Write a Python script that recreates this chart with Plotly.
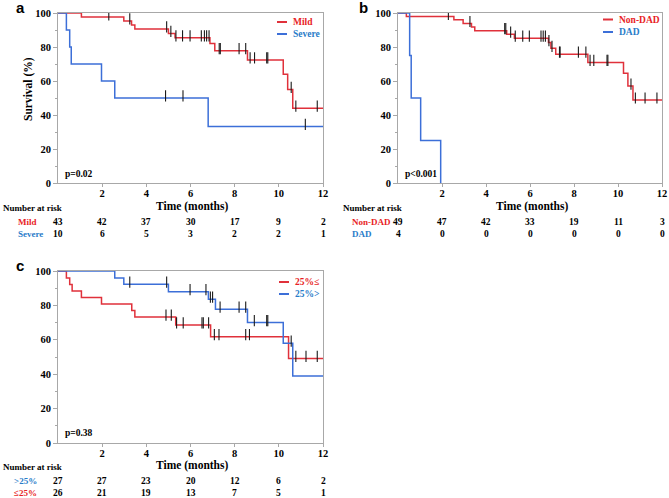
import plotly.graph_objects as go

# ---------------- data ----------------
# Panel a
mild_event_t = [1.06, 2.98, 3.33, 3.48, 5.0, 5.3, 6.88, 7.1, 8.58, 10.2, 10.4, 10.63]
mild_event_s = [97.7, 95.3, 93.0, 90.6, 88.0, 85.4, 82.0, 77.8, 72.4, 64.0, 55.0, 44.0]
mild_cens = [2.3, 3.25, 4.92, 5.11, 5.34, 5.64, 5.98, 6.49, 6.63, 6.73, 6.84, 7.3, 7.35,
             8.2, 8.5, 8.7, 8.9, 9.45, 9.5, 10.56, 10.77, 11.74]
mild_end = 12

severe_event_t = [0.38, 0.53, 0.6, 1.97, 2.57, 6.8]
severe_event_s = [90, 80, 70, 60, 50, 33.3]
severe_cens = [4.87, 5.66, 11.2]
severe_end = 12

# Panel b
nondad_event_t = [0.38, 2.54, 2.96, 3.34, 3.49, 4.94, 5.29, 6.84, 6.95, 7.17, 8.63, 10.25, 10.45, 10.68]
nondad_event_s = [98.0, 96.0, 93.8, 91.8, 89.6, 87.5, 85.2, 82.6, 79.2, 75.8, 70.9, 64.5, 57.0, 48.8]
nondad_cens = [2.29, 3.27, 4.85, 4.9, 5.12, 5.33, 5.67, 5.97, 6.5, 6.6, 6.7, 6.86, 7.0, 7.34, 7.37,
               8.2, 8.54, 8.73, 8.9, 9.5, 9.54, 10.59, 10.79, 11.23, 11.77]
nondad_end = 12

dad_event_t = [0.53, 0.6, 1.03, 1.94]
dad_event_s = [75, 50, 25, 0]
dad_cens = []
dad_end = 1.94

# Panel c
le25_event_t = [0.38, 0.53, 0.64, 1.06, 1.97, 3.34, 3.48, 5.33, 6.91, 10.44]
le25_event_s = [96.0, 92.2, 88.4, 84.6, 80.8, 77.0, 73.2, 68.6, 61.8, 49.2]
le25_cens = [4.89, 5.13, 5.37, 5.67, 6.52, 6.58, 6.82, 7.08, 7.29, 8.5, 8.67, 10.77, 11.23, 11.74]
le25_end = 12

gt25_event_t = [2.57, 2.98, 5.0, 6.81, 7.13, 8.58, 10.2, 10.63]
gt25_event_s = [96.0, 92.3, 88.0, 83.6, 77.8, 70.0, 58.0, 39.0]
gt25_cens = [3.25, 4.92, 5.98, 6.7, 6.9, 7.0, 7.34, 8.2, 8.5, 8.89, 9.45, 9.5, 10.56]
gt25_end = 12

risk_times = [0, 2, 4, 6, 8, 10, 12]
risk_mild = [43, 42, 37, 30, 17, 9, 2]
risk_severe = [10, 6, 5, 3, 2, 2, 1]
risk_nondad = [49, 47, 42, 33, 19, 11, 3]
risk_dad = [4, 0, 0, 0, 0, 0, 0]
risk_gt25 = [27, 27, 23, 20, 12, 6, 2]
risk_le25 = [26, 21, 19, 13, 7, 5, 1]

x_ticks = [2, 4, 6, 8, 10, 12]
y_ticks = [0, 20, 40, 60, 80, 100]

# ---------------- style ----------------
W, H = 669, 498
RED = "#E0313B"
BLUE = "#3C6FD8"
RED_T = "#E81E25"
BLUE_T = "#2A7CC9"
SERIF = "Liberation Serif"
SANS = "Liberation Sans"
AX = "#A8A8A8"


def px(x):
    return x / W


def py(y):
    return 1 - y / H


fig = go.Figure()


def surv_at(t, ev_t, ev_s):
    s = 100
    for et, es in zip(ev_t, ev_s):
        if et <= t:
            s = es
    return s


def add_km(ev_t, ev_s, cens, end, color, xa, ya):
    xs = [0] + list(ev_t) + [end]
    ys = [100] + list(ev_s) + [ev_s[-1]]
    fig.add_trace(go.Scatter(x=xs, y=ys, mode="lines", line=dict(color=color, width=1.5, shape="hv"),
                             xaxis=xa, yaxis=ya, showlegend=False, hoverinfo="skip"))
    if cens:
        cy = [surv_at(c, ev_t, ev_s) + 1.2 for c in cens]
        fig.add_trace(go.Scatter(x=cens, y=cy, mode="markers",
                                 marker=dict(symbol="line-ns-open", size=8, color="#1a1a1a",
                                             line=dict(color="#1a1a1a", width=1.1)),
                                 xaxis=xa, yaxis=ya, showlegend=False, hoverinfo="skip"))


add_km(mild_event_t, mild_event_s, mild_cens, mild_end, RED, "x", "y")
add_km(severe_event_t, severe_event_s, severe_cens, severe_end, BLUE, "x", "y")
add_km(nondad_event_t, nondad_event_s, nondad_cens, nondad_end, RED, "x2", "y2")
add_km(dad_event_t, dad_event_s, dad_cens, dad_end, BLUE, "x2", "y2")
add_km(le25_event_t, le25_event_s, le25_cens, le25_end, RED, "x3", "y3")
add_km(gt25_event_t, gt25_event_s, gt25_cens, gt25_end, BLUE, "x3", "y3")

tickfont = dict(family=SERIF, size=10.5, color="black", weight="bold")


def xax(dom, anchor):
    return dict(domain=dom, range=[0, 12], tickvals=x_ticks, showline=True, linecolor=AX, mirror=True,
                ticks="outside", ticklen=3, tickcolor=AX, showgrid=False, zeroline=False,
                ticklabelstandoff=-3,
                tickfont=tickfont, anchor=anchor, automargin=False, fixedrange=True)


def yax(dom, anchor):
    return dict(domain=dom, range=[0, 100], tickvals=y_ticks, showline=True, linecolor=AX, mirror=True,
                ticks="outside", ticklen=4, tickcolor=AX, showgrid=False, zeroline=False,
                minor=dict(ticks="outside", ticklen=2, dtick=10, tickcolor=AX),
                tickfont=tickfont, anchor=anchor, automargin=False, fixedrange=True)


dom_a_x = [px(58), px(323)]
dom_b_x = [px(398), px(662)]
dom_top_y = [py(183), py(13)]
dom_c_y = [py(443), py(271)]

fig.update_layout(
    width=W, height=H, margin=dict(l=0, r=0, t=0, b=0),
    paper_bgcolor="white", plot_bgcolor="white", showlegend=False,
    xaxis=xax(dom_a_x, "y"), yaxis=yax(dom_top_y, "x"),
    xaxis2=xax(dom_b_x, "y2"), yaxis2=yax(dom_top_y, "x2"),
    xaxis3=xax(dom_a_x, "y3"), yaxis3=yax(dom_c_y, "x3"),
)

ann = []
shapes = []


def text(x, y, s, size=11, color="black", xanchor="left", family=SERIF, xref="paper", bold=True, angle=0):
    ann.append(dict(x=x, y=y, xref=xref, yref="paper", text=("<b>%s</b>" % s) if bold else s,
                    showarrow=False, xanchor=xanchor, yanchor="middle", textangle=angle,
                    font=dict(family=family, size=size, color=color)))


# panel letters
text(px(14), py(8), "a", size=15, family=SANS)
text(px(357), py(8), "b", size=15, family=SANS)
text(px(14), py(265), "c", size=15, family=SANS)

# y title
text(px(28), py(89), "Survival (%)", size=11.5, xanchor="center", angle=-90)

# p values
text(px(63), py(174), "p=0.02", size=9.5)
text(px(403), py(174), "p&lt;0.001", size=9.5)
text(px(63), py(433), "p=0.38", size=9.5)

# x titles
text(px(192), py(206), "Time (months)", size=11.5, xanchor="center")
text(px(532), py(206), "Time (months)", size=11.5, xanchor="center")
text(px(192), py(465), "Time (months)", size=11.5, xanchor="center")


# legends
def legend(x0, y, label, color, tcolor):
    shapes.append(dict(type="line", xref="paper", yref="paper", x0=px(x0), x1=px(x0 + 10), y0=py(y), y1=py(y),
                       line=dict(color=color, width=2)))
    text(px(x0 + 14), py(y), label, size=9.5, color=tcolor)


legend(277, 22, "Mild", RED, RED_T)
legend(277, 34, "Severe", BLUE, BLUE_T)
legend(603, 19.5, "Non-DAD", RED, RED_T)
legend(603, 32, "DAD", BLUE, BLUE_T)
legend(279, 282, "25%≤", RED, RED_T)
legend(279, 294, "25%&gt;", BLUE, BLUE_T)


# risk tables
def risk_table(xref, x_num, x_lab, y0, rows):
    text(px(x_num), py(y0), "Number at risk", size=9)
    for i, (lab, col, vals) in enumerate(rows):
        yy = y0 + 13.5 + 12.5 * i
        text(px(x_lab), py(yy), lab, size=9, color=col)
        for t, v in zip(risk_times, vals):
            text(t, py(yy), str(v), size=9.5, xanchor="center", xref=xref)


risk_table("x", 1, 16, 208, [("Mild", RED_T, risk_mild), ("Severe", BLUE_T, risk_severe)])
risk_table("x2", 341, 350, 208, [("Non-DAD", RED_T, risk_nondad), ("DAD", BLUE_T, risk_dad)])
risk_table("x3", 1, 12, 467, [("&gt;25%", BLUE_T, risk_gt25), ("≤25%", RED_T, risk_le25)])

fig.update_layout(annotations=ann, shapes=shapes)

fig.write_html("out.html", config={"displayModeBar": False},
               post_script="document.body.style.margin='0';document.body.style.overflow='hidden';")
